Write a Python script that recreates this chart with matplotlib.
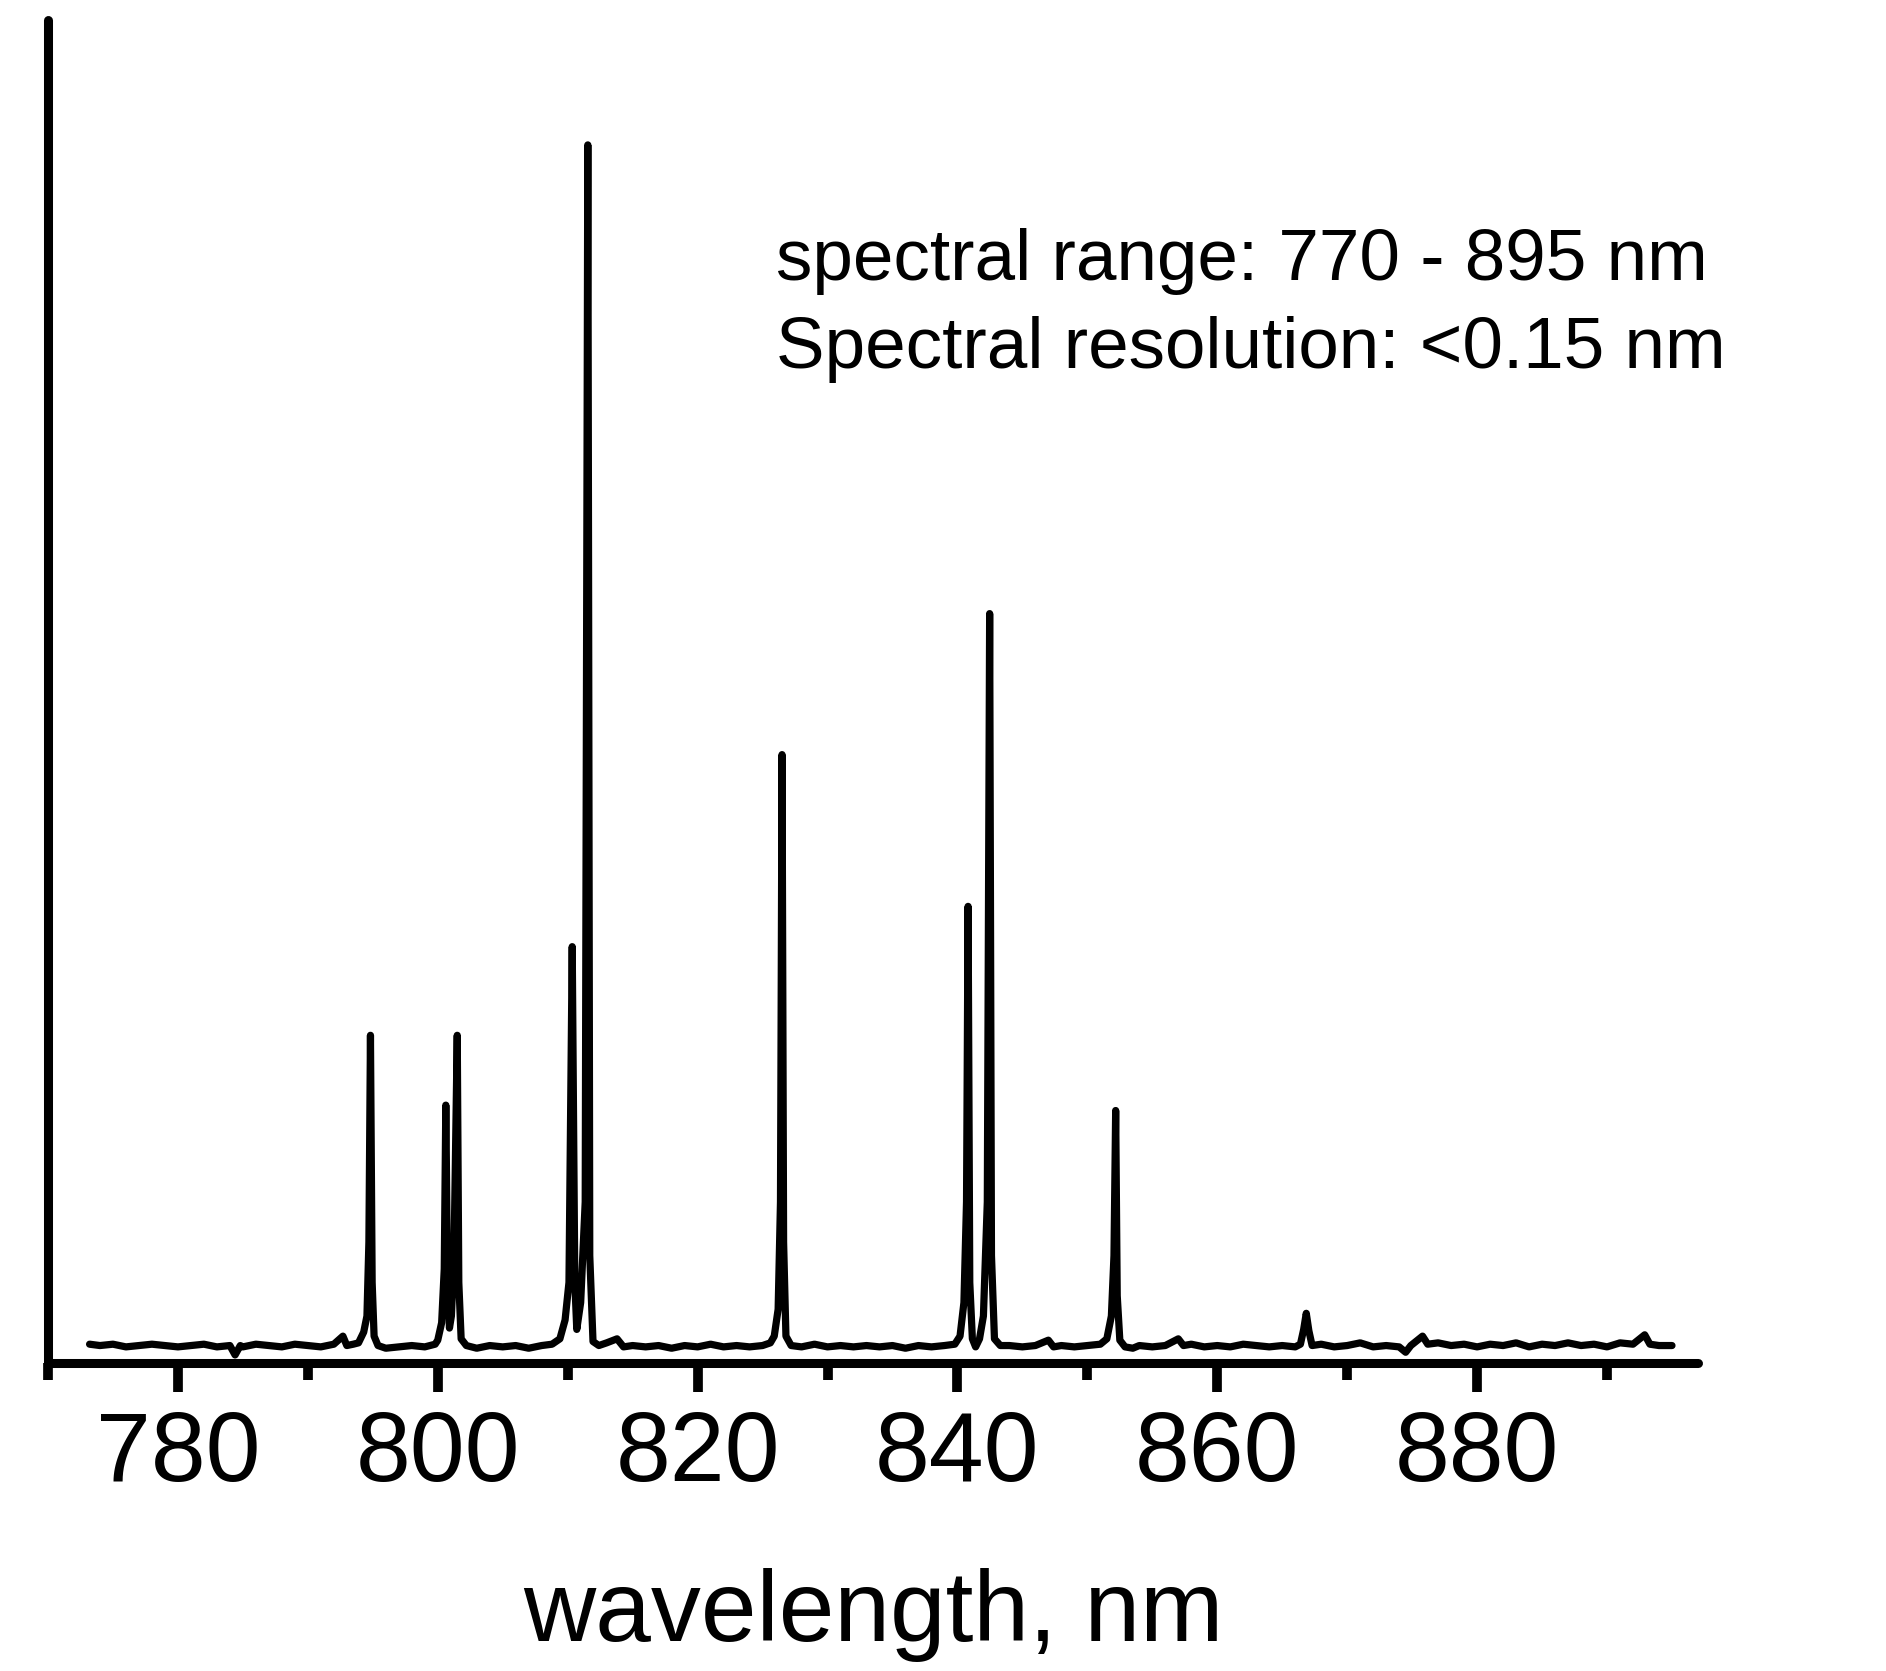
import matplotlib
matplotlib.use('Agg')
import matplotlib.pyplot as plt
import numpy as np
from matplotlib.ticker import MultipleLocator

plt.rcParams['font.family'] = ['Liberation Sans', 'DejaVu Sans']

# spectrum: wavelength (nm) and intensity (0-100 = axis height)
base_1_wl = [773.2, 774, 775, 776, 777, 778, 779, 780, 781, 782, 783, 784, 784.4, 784.8,
             785, 786, 787, 788, 789, 790, 791, 792, 792.7, 793.0, 793.5]
base_1_i = [1.4, 1.3, 1.4, 1.2, 1.3, 1.4, 1.3, 1.2, 1.3, 1.4, 1.2, 1.3, 0.6, 1.3,
            1.2, 1.4, 1.3, 1.2, 1.4, 1.3, 1.2, 1.4, 2.0, 1.3, 1.4]

peak_795_wl = [793.9, 794.3, 794.55, 794.7, 794.82, 794.95, 795.1, 795.4, 796,
               797, 798, 799, 799.8]
peak_795_i = [1.5, 2.3, 3.5, 9.0, 24.4, 6.0, 2.0, 1.3, 1.1,
              1.2, 1.3, 1.2, 1.4]

peak_801_wl = [800.0, 800.3, 800.5, 800.62, 800.75, 800.9, 801.05, 801.25, 801.5, 801.62,
               801.8, 802.2, 803, 804, 805, 806, 807, 808, 808.8]
peak_801_i = [1.7, 3.0, 7.0, 19.2, 6.5, 2.6, 3.5, 8.0, 24.4, 6.0,
              1.8, 1.3, 1.1, 1.3, 1.2, 1.3, 1.1, 1.3, 1.4]

peak_811_wl = [809.4, 809.8, 810.1, 810.35, 810.55, 810.7, 811.0, 811.35, 811.55, 811.7,
               811.95, 812.4, 813, 813.8, 814.3, 815, 816, 817, 818, 819, 820, 821,
               822, 823, 824, 825, 825.6]
peak_811_i = [1.8, 3.2, 6.0, 31.0, 6.0, 2.5, 4.5, 12.0, 90.7, 8.0,
              1.6, 1.3, 1.5, 1.8, 1.2, 1.3, 1.2, 1.3, 1.1, 1.3, 1.2, 1.4,
              1.2, 1.3, 1.2, 1.3, 1.5]

peak_826_wl = [825.9, 826.2, 826.38, 826.5, 826.62, 826.8, 827.2,
               828, 829, 830, 831, 832, 833, 834, 835, 836, 837, 838, 839, 839.8]
peak_826_i = [2.0, 4.0, 12.0, 45.3, 9.0, 2.0, 1.3,
              1.2, 1.4, 1.2, 1.3, 1.2, 1.3, 1.2, 1.3, 1.1, 1.3, 1.2, 1.3, 1.4]

peak_842_wl = [840.2, 840.5, 840.7, 840.82, 840.95, 841.15, 841.4, 841.7, 842.0, 842.3,
               842.48, 842.62, 842.85, 843.3, 844, 845, 846, 847, 847.4, 848, 849,
               850, 851]
peak_842_i = [2.0, 4.5, 12.0, 34.0, 6.0, 1.8, 1.2, 1.8, 3.5, 12.0,
              55.8, 8.0, 1.8, 1.3, 1.3, 1.2, 1.3, 1.7, 1.2, 1.3, 1.2,
              1.3, 1.4]

peak_852_wl = [851.5, 851.85, 852.05, 852.18, 852.3, 852.5, 852.9,
               853.5, 854, 855, 856, 857, 857.4, 858, 859, 860, 861, 862, 863,
               864, 865, 866, 866.4]
peak_852_i = [1.8, 3.5, 8.0, 18.8, 5.0, 1.7, 1.2,
              1.1, 1.3, 1.2, 1.3, 1.8, 1.3, 1.4, 1.2, 1.3, 1.2, 1.4, 1.3,
              1.2, 1.3, 1.2, 1.4]

peak_867_wl = [866.65, 866.85, 867.05, 867.3, 868, 869, 870, 871, 872, 873, 874,
               874.5, 874.9, 875.8, 876.2, 877, 878, 879, 880, 881, 882, 883, 884,
               885, 886, 887, 888, 889, 890, 891, 892, 892.9, 893.3, 894, 895]
peak_867_i = [2.5, 3.7, 2.4, 1.3, 1.4, 1.2, 1.3, 1.5, 1.2, 1.3, 1.2,
              0.8, 1.3, 2.0, 1.4, 1.5, 1.3, 1.4, 1.2, 1.4, 1.3, 1.5, 1.2,
              1.4, 1.3, 1.5, 1.3, 1.4, 1.2, 1.5, 1.4, 2.1, 1.4, 1.3, 1.3]

wavelength = np.concatenate([base_1_wl, peak_795_wl, peak_801_wl, peak_811_wl,
                             peak_826_wl, peak_842_wl, peak_852_wl, peak_867_wl])
intensity = np.concatenate([base_1_i, peak_795_i, peak_801_i, peak_811_i,
                            peak_826_i, peak_842_i, peak_852_i, peak_867_i])

major_ticks = [780, 800, 820, 840, 860, 880]

fig = plt.figure(figsize=(18.86, 16.71), dpi=100)
ax = fig.add_axes([0.02545, 0.18432, 0.87485, 0.80371])

ax.plot(wavelength, intensity, color='black', lw=5.2,
        solid_capstyle='round', solid_joinstyle='round')

ax.set_xlim(770, 897)
ax.set_ylim(0, 100)

for side in ['top', 'right']:
    ax.spines[side].set_visible(False)
for side in ['left', 'bottom']:
    ax.spines[side].set_linewidth(6.5)
    ax.spines[side].set_capstyle('round')

ax.set_xticks(major_ticks)
ax.xaxis.set_minor_locator(MultipleLocator(10))
ax.set_yticks([])
ax.tick_params(axis='x', which='major', direction='out', length=21, width=7,
               labelsize=71, pad=13)
ax.tick_params(axis='x', which='minor', direction='out', length=12, width=7)

ax.set_xlabel('wavelength, nm', fontsize=72, labelpad=48)

ax.text(0.4412, 0.8064, 'spectral range: 770 - 895 nm', transform=ax.transAxes,
        fontsize=52.5, ha='left', va='baseline')
ax.text(0.4412, 0.7409, 'Spectral resolution: <0.15 nm', transform=ax.transAxes,
        fontsize=52.5, ha='left', va='baseline')

fig.savefig('out.png', dpi=100)
